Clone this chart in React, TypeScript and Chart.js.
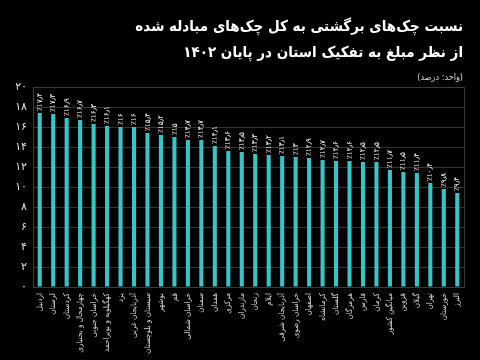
import { useEffect, useRef } from 'react';
import { Chart, registerables } from 'chart.js';

Chart.register(...registerables);

const provinces = [
  'اردبیل', 'لرستان', 'کردستان', 'چهارمحال و بختیاری', 'خراسان جنوبی',
  'کهگیلویه و بویراحمد', 'یزد', 'آذربایجان غربی', 'سیستان و بلوچستان', 'بوشهر',
  'قم', 'خراسان شمالی', 'سمنان', 'همدان', 'مرکزی', 'مازندران', 'زنجان', 'ایلام',
  'آذربایجان شرقی', 'خراسان رضوی', 'اصفهان', 'کرمانشاه', 'گلستان', 'هرمزگان',
  'فارس', 'کرمان', 'میانگین کشور', 'قزوین', 'گیلان', 'تهران', 'خوزستان', 'البرز',
];

const values = [
  17.4, 17.3, 16.9, 16.7, 16.3, 16.1, 16, 16, 15.4, 15.2,
  15, 14.7, 14.7, 14.1, 13.6, 13.5, 13.3, 13.2, 13.1, 13, 12.9,
  12.7, 12.6, 12.6, 12.5, 12.5, 11.7, 11.5, 11.4, 10.4, 9.8, 9.4,
];

const yTicks = [0, 2, 4, 6, 8, 10, 12, 14, 16, 18, 20];

const titleLines = [
  'نسبت چک‌های برگشتی به کل چک‌های مبادله شده',
  'از نظر مبلغ به تفکیک استان در پایان ۱۴۰۲',
];
const unitLabel = '(واحد: درصد)';

const FONT = '"DejaVu Sans", "Noto Sans", sans-serif';
const FONT_C = '"DejaVu Sans Condensed", "DejaVu Sans", sans-serif';

const fa = (s: string) =>
  s.replace(/\d/g, (d) => '۰۱۲۳۴۵۶۷۸۹'[Number(d)]).replace('.', '٫');

const fmtValue = (v: number) => '٪' + fa(Number.isInteger(v) ? String(v) : v.toFixed(1));

const overlay = {
  id: 'overlay',
  beforeDatasetsDraw(chart: any) {
    const { ctx, chartArea: a } = chart;
    ctx.save();
    ctx.strokeStyle = '#3a3a3a';
    ctx.lineWidth = 1;
    ctx.strokeRect(Math.round(a.left) + 0.5, Math.round(a.top) + 0.5, Math.round(a.right - a.left), Math.round(a.bottom - a.top));
    ctx.restore();
  },
  afterDatasetsDraw(chart: any) {
    const { ctx } = chart;
    const meta = chart.getDatasetMeta(0);
    ctx.save();
    ctx.fillStyle = '#ffffff';
    ctx.font = `8px ${FONT_C}`;
    ctx.textAlign = 'left';
    ctx.textBaseline = 'middle';
    meta.data.forEach((bar: any, i: number) => {
      ctx.save();
      ctx.translate(bar.x, bar.y - 2);
      ctx.rotate(-Math.PI / 2);
      ctx.fillText(fmtValue(values[i]), 0, 0);
      ctx.restore();
    });
    ctx.restore();
  },
  afterDraw(chart: any) {
    const { ctx } = chart;
    ctx.save();
    ctx.direction = 'rtl';
    ctx.textAlign = 'right';
    ctx.textBaseline = 'alphabetic';
    ctx.fillStyle = '#ffffff';
    ctx.font = `bold 15px ${FONT_C}`;
    ctx.fillText(titleLines[0], 463, 31);
    ctx.fillText(titleLines[1], 463, 57);
    ctx.fillStyle = '#d8d8d8';
    ctx.font = `9px ${FONT_C}`;
    ctx.fillText(unitLabel, 463, 80);
    ctx.restore();
  },
};

export default function App() {
  const ref = useRef<HTMLCanvasElement | null>(null);

  useEffect(() => {
    document.body.style.margin = '0';
    document.body.style.background = '#000';
    if (!ref.current) return;
    const chart = new Chart(ref.current, {
      type: 'bar',
      data: {
        labels: provinces,
        datasets: [
          {
            data: values,
            backgroundColor: '#36c4c6',
            borderWidth: 0,
            barPercentage: 0.32,
            categoryPercentage: 0.95,
          },
        ],
      },
      plugins: [overlay],
      options: {
        animation: false,
        responsive: false,
        maintainAspectRatio: false,
        layout: { padding: { top: 87, left: 8, right: 16, bottom: 0 } },
        plugins: {
          legend: { display: false },
          title: { display: false },
          tooltip: { enabled: false },
        },
        scales: {
          x: {
            grid: { display: false, drawTicks: false },
            border: { display: false },
            afterFit: (s: any) => { s.height = 73; },
            ticks: {
              autoSkip: false,
              maxRotation: 90,
              minRotation: 90,
              padding: 6,
              color: '#d8d8d8',
              font: { family: FONT_C, size: 8 },
            },
          },
          y: {
            min: 0,
            max: 20,
            afterFit: (s: any) => { s.width = 25; },
            afterBuildTicks: (s: any) => { s.ticks = yTicks.map((v) => ({ value: v })); },
            grid: { color: '#333333', drawTicks: false },
            border: { display: false },
            ticks: {
              padding: 6,
              color: '#e0e0e0',
              font: { family: FONT, size: 11 },
              callback: (v: any) => fa(String(v)),
            },
          },
        },
      },
    });
    return () => chart.destroy();
  }, []);

  return (
    <div style={{ width: 480, height: 360, background: '#000' }}>
      <canvas ref={ref} width={480} height={360} style={{ display: 'block' }} />
    </div>
  );
}
